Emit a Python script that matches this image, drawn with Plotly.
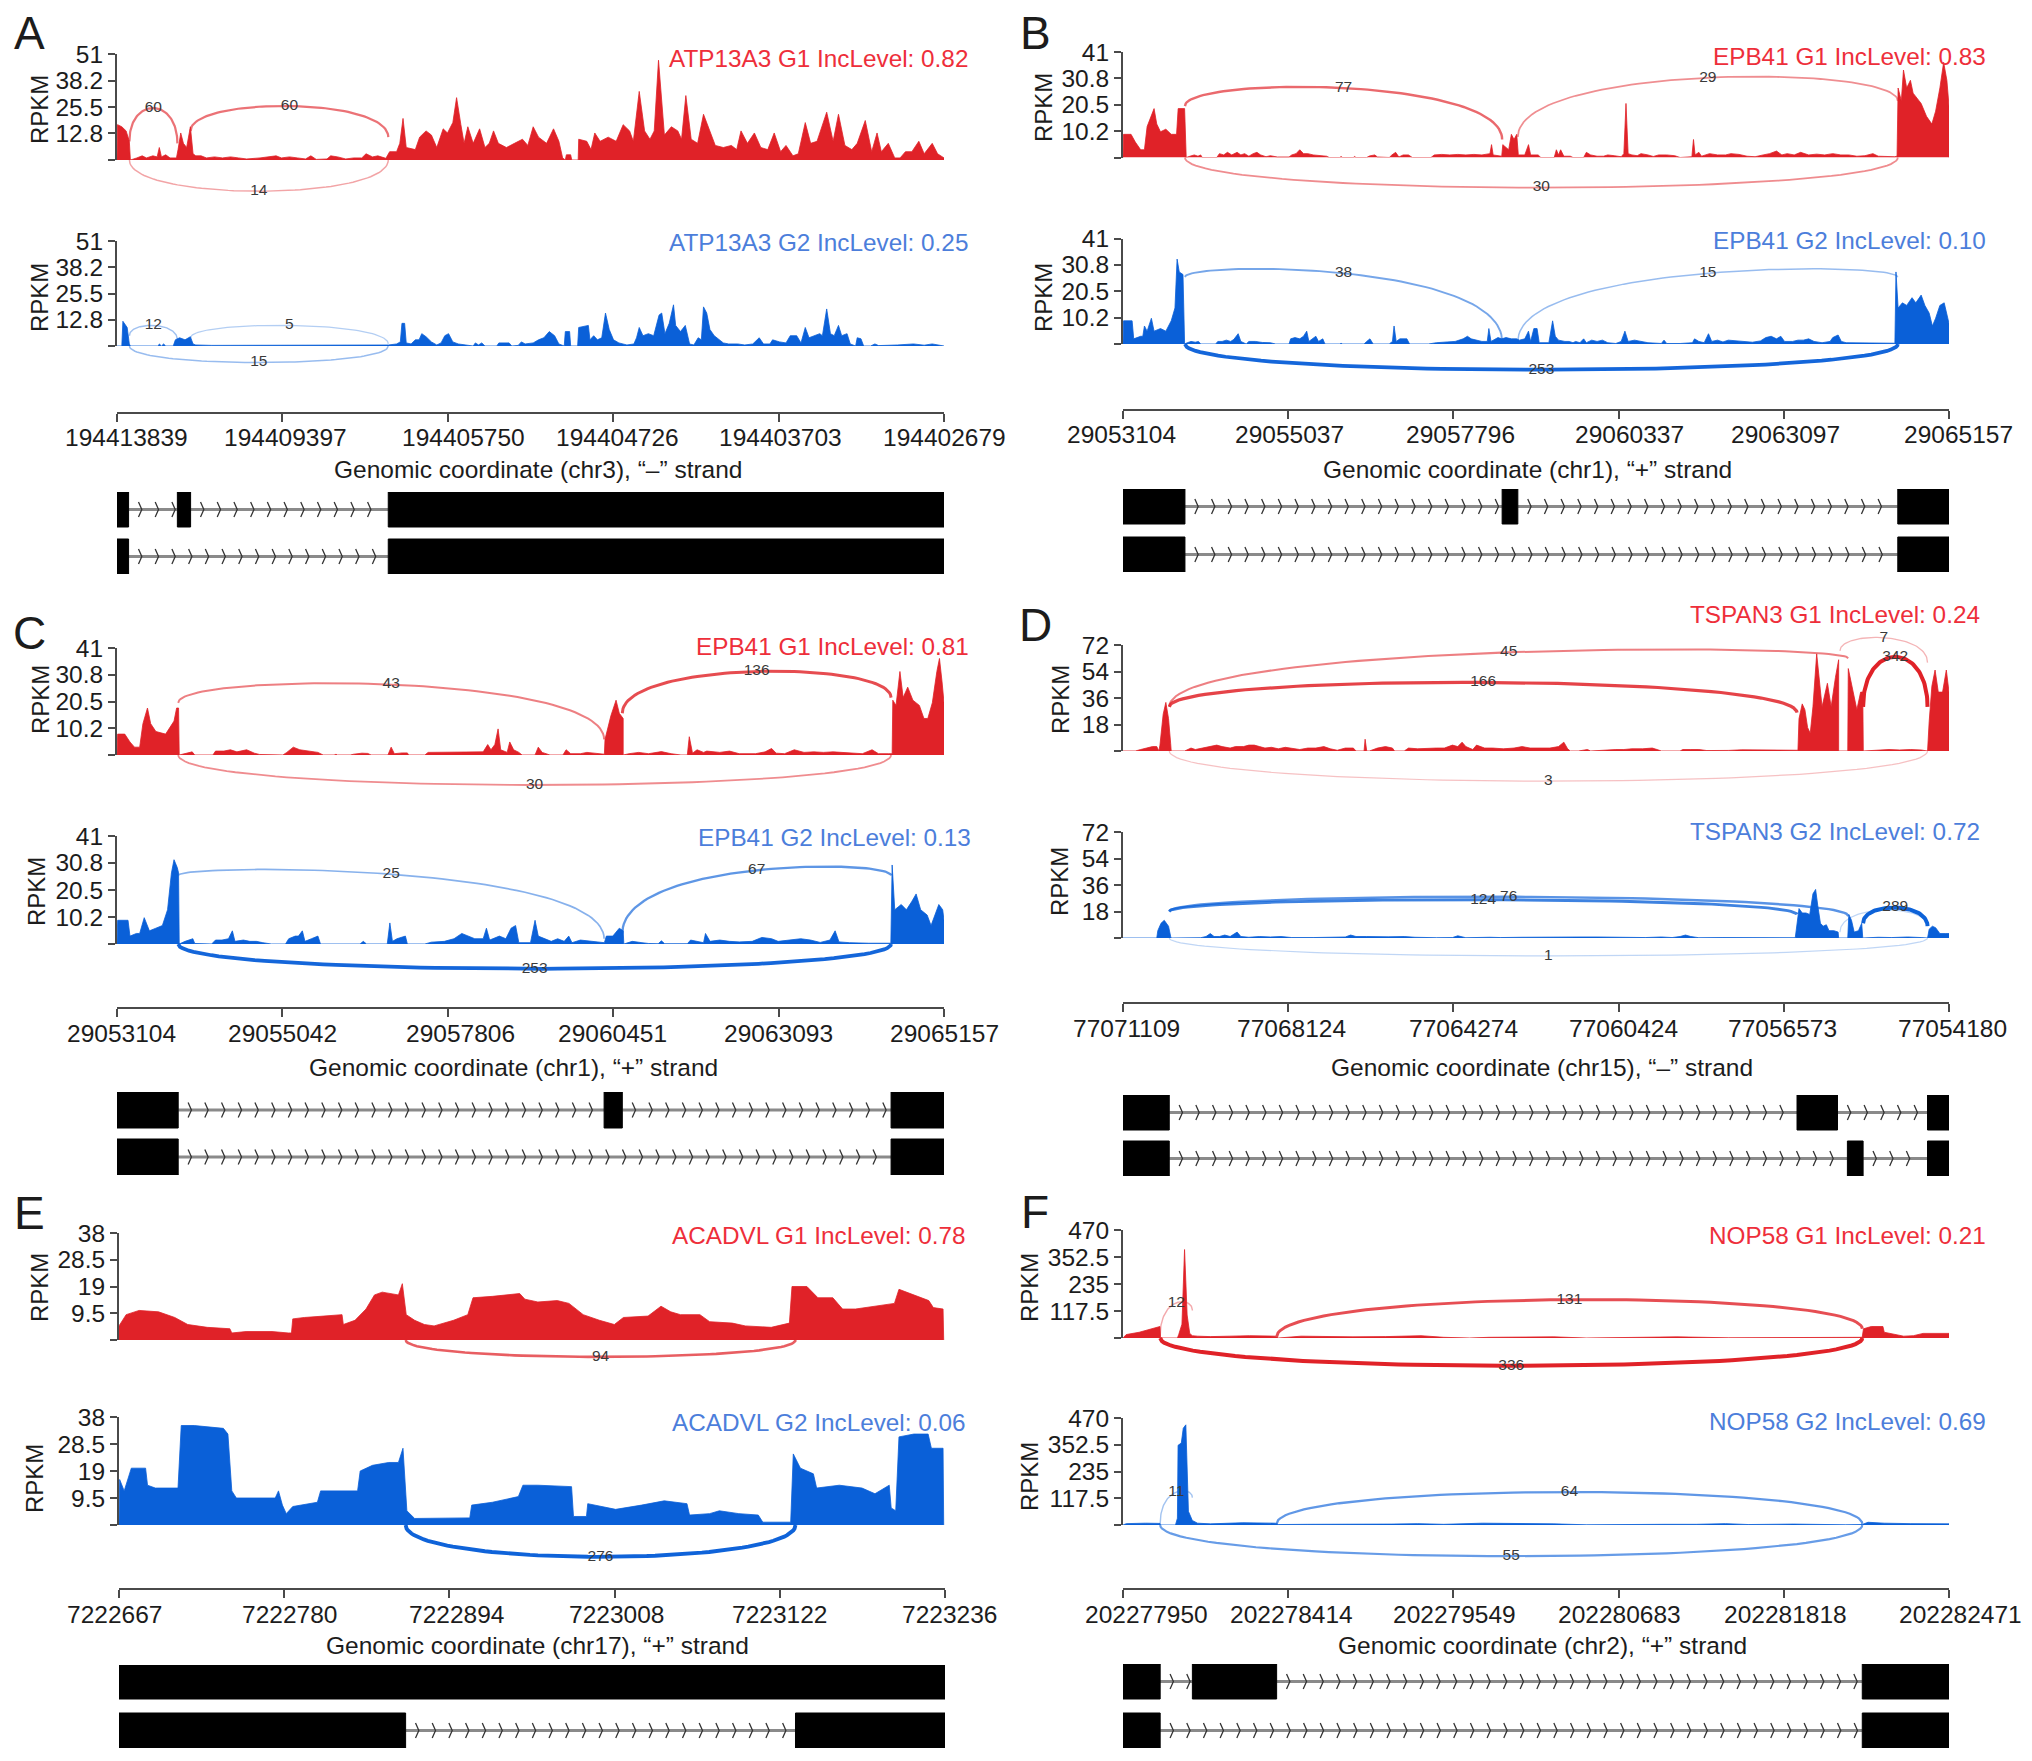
import numpy as np
import plotly.graph_objects as go

W, H = 2032, 1761
RED, BLUE = "#E02228", "#0A60D8"
RED_T, BLUE_T = "#EE2E3A", "#4C7EDB"
INK = "#1c1c1c"
AXC = "#4a4a4a"
FONT = "Liberation Sans"
ARC_PAD = 50

# ---------- coverage readings: (position along the axis in reading units, RPKM)
A1 = [(13,0),(14,17),(22,16),(30,14),(36,9),(38,0),(50,1),(60,2),(68,1),(80,2),(88,1.5),(92,6),(96,1.5),(104,2.5),(112,1),(124,1),(127,5),(132,13),(137,8),(143,6),(150,16),(155,3),(160,2),(170,2),(180,1),(195,1.5),(210,1),(225,1.5),(240,1),(255,.5),(280,1),(300,1.5),(310,2),(320,1),(335,1.5),(350,1),(365,.5),(375,2),(385,.3),(405,.5),(412,2),(425,1.5),(440,.5),(455,1),(470,1),(478,3),(490,1.5),(500,2),(515,.8),(522,4),(535,4),(541,8),(547,20),(553,6),(570,5),(578,11),(590,14),(600,12),(610,6),(622,15),(630,13),(640,18),(647,30),(655,17),(661,8),(668,16),(678,8),(690,15),(700,6),(708,8),(716,14),(725,8),(740,6),(755,8),(770,10),(780,7),(790,16),(800,11),(815,8),(828,15),(838,9),(845,1),(850,0),(852,2.5),(860,2.5),(862,0),(874,0),(875,10),(890,9),(898,5),(905,13),(915,9),(930,11),(945,9),(958,17),(970,14),(977,9),(988,33),(998,14),(1008,10),(1016,14),(1024,48),(1035,12),(1048,16),(1060,14),(1067,10),(1075,31),(1085,10),(1097,8),(1108,22),(1118,15),(1130,7),(1145,6),(1160,7),(1170,5),(1178,14),(1190,8),(1203,13),(1215,6),(1228,5),(1240,13),(1252,4),(1262,7),(1275,2),(1285,3),(1298,18),(1308,8),(1320,9),(1338,23),(1350,9),(1360,22),(1372,7),(1385,5),(1395,8),(1410,19),(1422,4),(1432,13),(1440,4),(1453,8),(1465,1),(1475,1),(1485,4),(1497,4),(1510,9),(1520,3),(1535,8),(1545,3),(1557,1),(1557,0)]
A2 = [(13,0),(22,0),(24,12),(32,9),(36,1),(38,0),(90,0),(92,1),(96,0),(100,1),(104,0),(118,0),(122,3),(130,4),(140,3),(150,4.5),(155,1),(160,.5),(190,.3),(230,.3),(270,.4),(310,.5),(360,.3),(420,.3),(480,.4),(515,.5),(520,.5),(535,1),(542,2),(545,11),(550,11),(553,1.5),(562,1),(570,3),(577,3),(582,6),(590,4.5),(600,2),(610,.5),(618,1.5),(625,5),(632,6),(640,2),(650,1),(665,.5),(678,0),(682,1.5),(688,.5),(694,1.5),(700,0),(722,0),(726,1.5),(745,1.5),(750,0),(762,.3),(768,2),(775,1),(790,1.5),(800,3),(810,4),(820,7),(830,5),(838,1),(848,0),(850,7),(858,7),(860,0),(873,0),(875,9),(885,9.5),(893,10),(896,3),(903,5),(910,3),(918,4),(925,16),(932,8),(940,3),(950,1.5),(965,.5),(978,1),(983,4),(988,9),(995,5),(1005,6),(1015,5),(1025,15),(1030,16),(1036,6),(1044,11),(1052,20),(1056,10),(1065,7),(1074,10),(1082,1),(1090,.5),(1098,4),(1104,3),(1108,19),(1114,16),(1120,8),(1128,5),(1138,3),(1145,1.5),(1155,1),(1172,1),(1185,.5),(1200,1),(1212,4),(1220,1),(1232,1),(1237,3),(1250,2),(1262,1.5),(1270,5),(1282,5),(1290,1.5),(1298,9),(1305,4),(1315,5),(1325,6),(1330,5),(1338,18),(1345,6),(1352,5),(1360,10),(1366,5),(1376,6),(1382,1),(1392,0),(1395,4),(1402,3.5),(1407,0),(1420,0),(1428,1),(1435,.2),(1455,.3),(1470,.5),(1500,1),(1520,.4),(1535,1),(1557,.3),(1557,0)]
B1 = [(15,0),(16,9),(30,9),(38,6),(48,3),(55,3),(60,12),(68,16),(73,19),(78,13),(85,10),(95,11),(105,9),(115,9),(118,19),(130,19),(133,0),(140,.5),(148,1),(155,.5),(160,1),(163,0),(190,0),(195,1.5),(203,1),(210,2),(218,1),(228,2),(235,1),(242,1.5),(250,.5),(258,1.5),(265,2),(272,1),(282,.3),(290,.7),(303,.2),(325,.2),(330,1),(338,1.5),(345,3),(352,1.5),(360,1.5),(370,1),(380,.7),(395,.5),(400,0),(420,0),(422,.4),(425,0),(445,0),(447,.4),(450,0),(470,0),(475,.6),(485,1),(490,.2),(512,0),(517,1),(524,2),(530,.2),(538,1),(548,1),(555,0),(590,0),(596,1),(610,1.2),(625,1),(640,1.2),(655,1),(670,1.2),(685,1),(700,1.5),(703,5),(706,1),(715,.6),(722,.5),(724,5),(735,3),(740,9),(745,7),(750,9),(753,1),(765,1),(772,5),(776,1),(790,1),(795,0),(820,0),(824,3),(828,1),(832,3),(838,.5),(850,.5),(855,0),(875,0),(880,2),(888,1),(900,.5),(912,.5),(920,1),(932,.7),(945,.3),(950,1.5),(954,21),(958,1.5),(965,1),(975,.7),(982,1.5),(995,1),(1005,.4),(1015,1),(1030,1),(1045,.7),(1055,0),(1077,.3),(1080,7),(1083,1),(1090,2),(1095,.5),(1110,1.5),(1125,1),(1140,1),(1150,1.5),(1165,1.2),(1180,.5),(1195,.3),(1210,1),(1222,1.5),(1235,2.5),(1245,1),(1255,1.5),(1268,1),(1280,2),(1295,1),(1310,1.3),(1325,1),(1340,1.5),(1355,1),(1370,1),(1385,.5),(1400,.7),(1415,1.5),(1425,.5),(1440,.3),(1455,.3),(1460,.5),(1462,27),(1468,22),(1472,34),(1478,27),(1485,30),(1490,25),(1498,23),(1505,21),(1515,16),(1525,13),(1532,18),(1540,27),(1547,37),(1553,30),(1557,20),(1557,0)]
B2 = [(15,0),(16,9),(32,9),(35,2),(48,3),(52,3),(55,7),(60,5),(68,10),(73,5),(85,6),(95,5),(105,9),(112,14),(116,33),(120,28),(127,27),(130,0),(135,.5),(142,1),(150,.7),(156,1),(160,0),(188,0),(192,1),(200,1),(208,1.5),(216,1),(222,1.8),(230,4),(235,1),(245,0),(250,1),(262,1),(275,.6),(290,.5),(300,0),(325,0),(328,2),(336,2.5),(345,2),(352,3),(358,5),(362,1),(375,3),(380,1),(388,2),(392,0),(420,0),(422,.3),(425,0),(465,0),(470,1),(476,2),(482,0),(512,0),(518,1),(521,7),(525,1),(532,2),(545,2),(550,0),(585,0),(600,.5),(620,.8),(635,1),(650,2),(658,3),(665,2),(675,1.5),(685,1),(695,1),(698,6),(702,1),(715,2.5),(722,2),(730,2.5),(740,2),(750,2),(755,1.5),(765,2),(772,5),(776,1),(782,6),(788,6),(792,.5),(810,.5),(817,9),(822,3),(828,1.5),(840,1),(848,1),(855,.5),(860,1),(868,.5),(875,2),(880,.5),(890,1.5),(900,1),(910,1.5),(920,.5),(935,.2),(945,1),(952,5),(958,1),(970,1.5),(985,.8),(995,.5),(1020,.2),(1025,1.5),(1030,.2),(1050,0),(1055,.2),(1078,.5),(1082,2),(1090,1),(1100,.5),(1108,4),(1114,1),(1125,1.5),(1135,.8),(1145,1.5),(1160,1.2),(1175,.8),(1190,.7),(1205,1.2),(1215,2.5),(1225,3),(1235,2),(1243,3),(1250,1),(1265,1),(1275,1.5),(1285,1.5),(1295,2),(1305,1),(1320,.5),(1335,1),(1340,2.5),(1350,3.5),(1356,1),(1365,.5),(1385,.4),(1410,.3),(1445,.3),(1456,.3),(1458,28),(1462,14),(1470,16),(1478,15),(1488,18),(1495,16),(1505,19),(1512,15),(1520,12),(1526,7),(1532,10),(1540,15),(1548,16),(1553,12),(1557,8),(1557,0)]
C1 = [(180,0),(181,8),(192,8),(200,5),(207,3),(215,3),(220,12),(227,18),(232,12),(240,9),(255,8),(268,13),(272,18),(275,18),(276,0),(285,.5),(296,1.2),(300,0),(328,0),(332,1.5),(345,1.5),(355,2),(365,1.2),(380,2),(392,.7),(400,.2),(420,0),(436,0),(442,1),(452,3),(462,2),(475,1.5),(490,1),(498,0),(515,0),(518,.3),(520,0),(540,0),(545,.3),(558,.7),(567,.6),(572,0),(598,0),(603,3),(608,.5),(620,.8),(628,.8),(630,0),(655,0),(660,1),(680,1),(695,1),(710,1.2),(730,1),(745,1.2),(752,4),(757,2),(763,4),(768,10),(772,2),(782,1),(786,5),(792,2),(800,1),(805,0),(825,0),(830,3),(836,1),(842,.5),(848,0),(868,0),(873,2),(880,.5),(895,.5),(905,1),(920,.5),(932,.3),(933,6),(942,15),(950,21),(955,16),(961,14),(961,0),(970,.5),(985,1),(1000,.5),(1020,1.3),(1035,.5),(1050,0),(1060,0),(1063,7),(1068,.7),(1075,2),(1085,1),(1090,1.5),(1110,1),(1125,1.5),(1140,.5),(1165,.5),(1180,1.2),(1190,2.5),(1197,.7),(1210,.5),(1225,2),(1240,1),(1255,1.2),(1270,1),(1285,1.2),(1300,1),(1315,.6),(1330,.5),(1345,2),(1355,.5),(1370,.5),(1376,.5),(1377,21),(1382,19),(1388,32),(1393,22),(1400,26),(1408,21),(1418,19),(1425,14),(1431,14),(1438,20),(1445,32),(1449,37),(1453,28),(1456,20),(1456,0)]
C2 = [(180,0),(181,9),(197,9),(200,3),(210,4),(215,4),(222,10),(230,5),(240,6),(250,7),(258,13),(264,27),(268,32),(273,29),(275,27),(276,0),(285,1),(297,2),(300,.2),(326,0),(332,1.5),(342,1.5),(352,2),(358,5),(362,1),(375,1.5),(385,1),(395,1),(405,.5),(418,0),(440,0),(445,2),(455,3),(460,3),(466,5),(470,1),(480,2),(490,3),(494,0),(520,.1),(555,0),(560,1),(565,0),(597,0),(601,8),(605,1),(612,2),(625,3),(628,0),(655,0),(665,.7),(685,1),(700,2),(712,4),(722,3),(732,2),(745,2),(750,6),(755,1.5),(770,3),(780,2),(788,6),(795,7),(800,.5),(818,.5),(825,9),(830,3),(840,2),(850,1),(860,2),(870,1),(877,3),(882,.5),(895,1.5),(910,1),(925,.5),(932,.5),(935,3),(945,3),(955,6),(961,5),(962,0),(975,1),(990,.5),(1000,.2),(1015,.1),(1020,1.2),(1025,.1),(1060,.1),(1065,1.5),(1075,1),(1085,.5),(1088,4),(1095,1),(1110,1.5),(1125,1),(1140,.8),(1160,1),(1175,2.5),(1190,2),(1200,1),(1215,1.5),(1235,2),(1250,1.5),(1265,.6),(1280,1.5),(1288,5),(1294,.8),(1310,.5),(1340,.3),(1374,.3),(1376,30),(1380,13),(1390,15),(1398,13),(1406,16),(1413,19),(1420,13),(1430,11),(1436,7),(1442,11),(1448,15),(1454,13),(1456,9),(1456,0)]
D1 = [(15,0),(38,0),(48,1),(60,2),(70,3),(78,3),(82,0),(84,4),(90,25),(95,33),(100,22),(104,5),(105,0),(130,0),(135,1),(142,2),(150,1),(165,2),(180,3),(190,4),(200,3),(215,2),(225,3),(240,3),(250,4),(260,4),(270,3),(280,2),(292,2.5),(305,1.5),(318,2.5),(335,1.5),(345,1),(360,2),(375,2),(390,3),(402,1.5),(415,.5),(430,2),(445,2),(450,0),(465,0),(467,8),(470,0),(475,0),(490,2),(505,3),(518,2),(522,0),(540,0),(548,2),(565,1.5),(585,2),(600,2),(615,2),(630,4),(640,3),(648,6),(655,3),(668,1),(675,4),(690,2),(705,2),(725,1.5),(745,2),(760,3),(775,2),(795,2),(812,2),(828,3),(838,6),(845,1.5),(850,0),(865,0),(875,.7),(882,1),(888,0),(905,.3),(920,1),(935,1),(950,1),(965,1.5),(985,1.5),(1003,2),(1012,1),(1020,0),(1055,0),(1060,1),(1075,1),(1090,1),(1105,.3),(1125,.2),(1145,.4),(1170,.8),(1180,.8),(1195,.8),(1215,1),(1240,1),(1262,1),(1275,.5),(1277,22),(1283,32),(1288,28),(1293,16),(1298,12),(1303,30),(1310,66),(1315,50),(1320,30),(1330,46),(1337,30),(1345,50),(1351,62),(1351,0),(1368,0),(1369,56),(1378,40),(1385,28),(1392,40),(1396,40),(1397,0),(1410,.3),(1425,1),(1445,1),(1465,.7),(1485,1),(1505,.7),(1517,0),(1520,20),(1525,44),(1531,55),(1537,40),(1545,40),(1552,55),(1557,40),(1557,0)]
D2 = [(15,0),(40,0),(50,.5),(62,.3),(78,0),(80,5),(86,10),(92,12),(100,8),(104,1),(105,0),(160,.2),(170,1),(178,3),(185,1),(195,1),(205,2),(215,1),(228,4),(235,1),(250,.5),(270,1),(290,.7),(310,1),(330,.3),(370,.3),(430,.7),(440,2),(450,1),(470,1),(490,.8),(510,.8),(540,1),(560,.5),(600,.2),(630,.3),(640,1.5),(655,.2),(700,.5),(720,.3),(760,.5),(800,.4),(830,.3),(870,.7),(900,.7),(930,.5),(960,.5),(990,.3),(1020,.7),(1040,.3),(1055,1),(1065,2),(1075,1),(1090,.2),(1135,.3),(1175,.3),(1210,.4),(1255,.5),(1270,.2),(1277,20),(1283,17),(1290,17),(1297,16),(1303,30),(1308,33),(1312,22),(1317,10),(1322,8),(1328,9),(1333,5),(1342,5),(1350,4),(1351,0),(1368,0),(1370,16),(1375,12),(1380,4),(1388,5),(1394,10),(1396,0),(1425,.5),(1450,.3),(1480,.7),(1505,.3),(1517,0),(1520,6),(1526,8),(1532,7),(1540,3),(1550,3),(1557,3),(1557,0)]
E1 = [(184,0),(184,5),(195,9),(215,10.5),(245,10),(270,8),(290,5.5),(320,4.5),(355,4),(358,2.5),(380,3),(420,3),(445,2.5),(450,2.5),(452,7.5),(470,8),(500,8.5),(528,9),(530,5.5),(548,7),(565,11),(578,16),(590,17),(615,16),(621,20),(627,9),(640,7),(655,5.5),(670,5),(700,7),(722,9),(730,15),(760,15.5),(785,16),(802,16.5),(810,14.5),(830,13.5),(860,14),(878,13),(900,9),(925,7),(948,5.5),(962,8),(1000,8.5),(1020,12),(1035,10),(1050,9),(1080,9),(1095,6.5),(1130,6),(1150,5),(1190,4.5),(1218,6),(1222,19),(1245,19),(1262,15),(1285,15),(1300,11),(1320,11),(1350,12),(1380,13),(1387,18),(1410,16),(1433,14),(1440,11.5),(1455,11),(1456,0)]
E2 = [(184,0),(185,16),(192,12),(203,20),(225,20),(228,14),(240,13),(275,13),(280,35),(300,35),(345,34),(352,32),(358,12),(365,9.5),(425,9.5),(430,12),(436,7),(442,4),(452,6.5),(490,8),(495,12),(530,12),(552,12),(556,19),(575,21),(600,22),(615,22),(622,27),(628,5),(640,2.3),(680,2.5),(725,2.5),(728,7),(760,8),(800,10),(807,14),(830,14),(882,13.5),(885,3),(905,3),(907,7.5),(950,5.5),(990,7),(1025,8.5),(1060,7.5),(1064,3.5),(1095,4),(1110,5),(1140,4),(1170,3.5),(1177,1),(1220,1),(1224,25),(1235,20),(1255,18),(1260,13),(1295,14),(1330,13),(1350,11),(1372,14),(1375,6),(1382,5),(1387,31),(1410,32),(1432,32),(1437,27),(1455,27),(1456,0)]
F1 = [(165,0),(170,15),(190,25),(210,40),(222,50),(223,0),(249,0),(251,15),(256,60),(260,385),(264,100),(268,20),(272,10),(280,8),(300,6),(330,8),(360,10),(400,8),(405,0),(440,8),(470,6),(520,5),(570,6),(625,10),(660,3),(700,0),(730,3),(780,4),(830,5),(880,0),(930,2),(1020,5),(1100,1),(1200,2),(1280,1),(1306,3),(1308,40),(1320,50),(1338,50),(1340,25),(1370,8),(1385,10),(1400,20),(1440,20),(1440,0)]
F2 = [(165,0),(170,6),(200,8),(222,7),(223,0),(246,0),(249,30),(250,350),(255,360),(258,425),(262,440),(266,60),(272,20),(280,8),(300,5),(350,10),(400,8),(405,2),(450,3),(520,2),(580,4),(620,6),(660,3),(720,8),(770,6),(790,8),(830,5),(880,1),(930,3),(1000,3),(1050,3),(1095,6),(1130,2),(1200,4),(1280,1),(1306,2),(1315,12),(1340,8),(1380,6),(1440,5),(1440,0)]

# ---------- splice junctions: start %, end %, RPKM at start, at end, at midpoint, read count, label
A1_J = [(1.5,7.3,9,8,25,60,"60"),(8.9,32.8,14,11,26,60,"60"),(1.5,32.8,0,0,-15,14,"14")]
A2_J = [(1.5,7.3,5,3,10,12,"12"),(8.9,32.8,4,1,10,5,"5"),(1.5,32.8,0,0,-8,15,"15")]
B1_J = [(7.5,45.9,20,7,27,77,"77"),(47.8,93.8,8,22,31,29,"29"),(7.5,93.8,0,0,-11.7,30,"30")]
B2_J = [(7.5,45.9,26,1,27.5,38,"38"),(47.8,93.8,1,26,27.5,15,"15"),(7.5,93.8,0,0,-10,253,"253")]
C1_J = [(7.4,58.9,20,6,27,43,"43"),(61.1,93.6,16,22,32,136,"136"),(7.4,93.6,0,0,-11.5,30,"30")]
C2_J = [(7.4,58.9,26,2,26.5,25,"25"),(61.1,93.6,4,26,28,67,"67"),(7.4,93.6,0,0,-9.4,253,"253")]
D1_J = [(5.6,81.6,30,26,46.6,166,"166"),(5.6,87.8,30,63,67,45,"45"),(86.8,97.4,68,60,77,7,"7"),(89.6,97.4,30,30,64,342,"342"),(5.6,97.4,0,0,-20.5,3,"3")]
D2_J = [(5.6,81.6,18,16,26,124,"124"),(5.6,87.8,18,15,28,76,"76"),(86.8,97.4,4,8,19,2,""),(89.6,97.4,10,8,20.7,289,"289"),(5.6,97.4,0,0,-12.2,1,"1")]
E1_J = [(34.7,81.9,0,0,-6,94,"94")]
E2_J = [(34.7,81.9,0,0,-11.2,276,"276")]
F1_J = [(4.5,8.4,10,120,153,12,"12"),(18.6,89.5,5,40,167,131,"131"),(4.5,89.5,0,0,-121,336,"336")]
F2_J = [(4.5,8.4,5,120,145,11,"11"),(18.6,89.5,5,5,145,64,"64"),(4.5,89.5,0,0,-137,55,"55")]

# ---------- gene models: exon start/end % for each of the two isoform rows
A_EX = [[(0,1.4),(7.3,8.9),(32.8,100)],[(0,1.4),(32.8,100)]]
B_EX = [[(0,7.5),(45.9,47.8),(93.8,100)],[(0,7.5),(93.8,100)]]
C_EX = [[(0,7.4),(58.9,61.1),(93.6,100)],[(0,7.4),(93.6,100)]]
D_EX = [[(0,5.6),(81.6,86.5),(97.4,100)],[(0,5.6),(87.7,89.6),(97.4,100)]]
E_EX = [[(0,100)],[(0,34.7),(81.9,100)]]
F_EX = [[(0,4.5),(8.4,18.6),(89.5,100)],[(0,4.5),(89.5,100)]]

# ---------- tick labels
A_X = ["194413839","194409397","194405750","194404726","194403703","194402679"]
B_X = ["29053104","29055037","29057796","29060337","29063097","29065157"]
C_X = ["29053104","29055042","29057806","29060451","29063093","29065157"]
D_X = ["77071109","77068124","77064274","77060424","77056573","77054180"]
E_X = ["7222667","7222780","7222894","7223008","7223122","7223236"]
F_X = ["202277950","202278414","202279549","202280683","202281818","202282471"]
A_Y = [0,12.8,25.5,38.2,51]
B_Y = [0,10.2,20.5,30.8,41]
D_Y = [0,18,36,54,72]
E_Y = [0,9.5,19,28.5,38]
F_Y = [0,117.5,235,352.5,470]

# where each tick label is centred, in % along the axis (the figure's labels sit off their ticks)
A_XL = [1.2,20.4,41.9,60.5,80.2,100]
B_XL = [-0.2,20.2,40.8,61.3,80.2,101.2]
C_XL = [0.5,20,41.5,59.9,80,100.1]
D_XL = [0.4,20.4,41.2,60.6,79.9,100.4]
E_XL = [-0.6,20.7,40.8,60.2,80,100.6]
F_XL = [2.9,20.4,40.1,60.1,80.2,101.4]
TICK_POS = [0,20,40,60,80,100]

PANELS = [
 dict(letter="A", lpos=(29,33), xr=(117,944), rd=(13,1557), y1=(54,160), y2=(241,346), ax=413, title="Genomic coordinate (chr3), “–” strand", tpos=(538,469),
      g1=(492,527), g2=(539,574), t1=A1, t2=A2, j1=A1_J, j2=A2_J, ex=A_EX, xt=A_X, xl=A_XL, yt=A_Y,
      n1="ATP13A3 G1 IncLevel: 0.82", n2="ATP13A3 G2 IncLevel: 0.25", np1=(970,58), np2=(970,242), r1=(39,110), r2=(39,298)),
 dict(letter="B", lpos=(1035,33), xr=(1123,1949), rd=(15,1557), y1=(52,157.5), y2=(238.5,344), ax=410, title="Genomic coordinate (chr1), “+” strand", tpos=(1527,469),
      g1=(489,524), g2=(537,572), t1=B1, t2=B2, j1=B1_J, j2=B2_J, ex=B_EX, xt=B_X, xl=B_XL, yt=B_Y,
      n1="EPB41 G1 IncLevel: 0.83", n2="EPB41 G2 IncLevel: 0.10", np1=(1988,56), np2=(1988,240), r1=(1043,108), r2=(1043,298)),
 dict(letter="C", lpos=(29,633), xr=(117,944), rd=(180,1456), y1=(648,755), y2=(836,944), ax=1008, title="Genomic coordinate (chr1), “+” strand", tpos=(513,1067),
      g1=(1092,1128), g2=(1139,1175), t1=C1, t2=C2, j1=C1_J, j2=C2_J, ex=C_EX, xt=C_X, xl=C_XL, yt=B_Y,
      n1="EPB41 G1 IncLevel: 0.81", n2="EPB41 G2 IncLevel: 0.13", np1=(971,647), np2=(973,837), r1=(40,700), r2=(37,892)),
 dict(letter="D", lpos=(1035,625), xr=(1123,1949), rd=(15,1557), y1=(645,751), y2=(832,938), ax=1003, title="Genomic coordinate (chr15), “–” strand", tpos=(1542,1067),
      g1=(1095,1130), g2=(1141,1176), t1=D1, t2=D2, j1=D1_J, j2=D2_J, ex=D_EX, xt=D_X, xl=D_XL, yt=D_Y,
      n1="TSPAN3 G1 IncLevel: 0.24", n2="TSPAN3 G2 IncLevel: 0.72", np1=(1982,615), np2=(1982,831), r1=(1060,700), r2=(1060,882)),
 dict(letter="E", lpos=(29,1213), xr=(119,945), rd=(184,1458), y1=(1233,1340), y2=(1417,1525), ax=1589, title="Genomic coordinate (chr17), “+” strand", tpos=(537,1645),
      g1=(1665,1699), g2=(1713,1748), t1=E1, t2=E2, j1=E1_J, j2=E2_J, ex=E_EX, xt=E_X, xl=E_XL, yt=E_Y,
      n1="ACADVL G1 IncLevel: 0.78", n2="ACADVL G2 IncLevel: 0.06", np1=(968,1235), np2=(968,1422), r1=(39,1288), r2=(34,1479)),
 dict(letter="F", lpos=(1035,1212), xr=(1123,1949), rd=(165,1440), y1=(1230,1338), y2=(1418,1525), ax=1589, title="Genomic coordinate (chr2), “+” strand", tpos=(1542,1645),
      g1=(1664,1699), g2=(1713,1748), t1=F1, t2=F2, j1=F1_J, j2=F2_J, ex=F_EX, xt=F_X, xl=F_XL, yt=F_Y,
      n1="NOP58 G1 IncLevel: 0.21", n2="NOP58 G2 IncLevel: 0.69", np1=(1988,1235), np2=(1988,1421), r1=(1029,1288), r2=(1029,1477)),
]

def px(x): return x / W
def py(y): return 1 - y / H
def rgba(hexc, a):
    r, g, b = int(hexc[1:3],16), int(hexc[3:5],16), int(hexc[5:7],16)
    return f"rgba({r},{g},{b},{a:.2f})"

fig = go.Figure()
layout = dict(width=W, height=H, margin=dict(l=0,r=0,t=0,b=0,autoexpand=False), paper_bgcolor="white", plot_bgcolor="rgba(0,0,0,0)",
              showlegend=False, hovermode=False, font=dict(family=FONT, color=INK))
annotations = []
TS = np.linspace(0, 1, 70)

def add_note(text, x, y, size, color=INK, anchor="center", angle=0):
    annotations.append(dict(text=text, x=px(x), y=py(y), xref="paper", yref="paper", showarrow=False,
                            xanchor=anchor, yanchor="middle", textangle=angle,
                            font=dict(family=FONT, size=size, color=color)))

def add_track(xn, yn, arcn, pts, rd, color, juncs):
    dx = [(p[0]-rd[0])/(rd[1]-rd[0])*100 for p in pts]
    dy = [p[1] for p in pts]
    fig.add_trace(go.Scatter(x=dx, y=dy, xaxis=xn, yaxis=yn, mode="lines", fill="tozeroy", fillcolor=color,
                             line=dict(color=color, width=0.8), hoverinfo="skip"))
    lx, ly, lt = [], [], []
    for x0, x1, y0, y1, ym, n, lab in juncs:
        c = (8*ym - y0 - y1)/6
        t = TS
        xs = x0 + (x1-x0)*(3*t**2 - 2*t**3)
        ys = (1-t)**3*y0 + 3*(1-t)**2*t*c + 3*(1-t)*t**2*c + t**3*y1
        ratio = np.log(max(n,2))/np.log(300)
        alpha = min(1.0, 0.25 + 0.75*ratio**2)
        width = 1.2 + 2.8*min(1.0, ratio)**3
        fig.add_trace(go.Scatter(x=xs, y=ys, xaxis=xn, yaxis=arcn, mode="lines",
                                 line=dict(color=rgba(color, alpha), width=width), hoverinfo="skip"))
        if lab:
            lx.append((x0+x1)/2); ly.append(ym); lt.append(lab)
    if lt:
        fig.add_trace(go.Scatter(x=lx, y=ly, text=lt, xaxis=xn, yaxis=arcn, mode="text",
                                 textposition="middle center", textfont=dict(family=FONT, size=15.5, color="#3a3a3a"),
                                 hoverinfo="skip"))

for i, p in enumerate(PANELS):
    k = i*5
    xid = "" if i == 0 else str(i+1)
    xname = "x"+xid
    ya, yb, yg, yc, yd = [str(k+1) if k else "", str(k+2), str(k+3), str(k+4), str(k+5)]
    layout["xaxis"+xid] = dict(domain=[px(p["xr"][0]), px(p["xr"][1])], range=[0,100], anchor="free", position=py(p["ax"]),
                               side="bottom", tickmode="array", tickvals=TICK_POS, showticklabels=False,
                               showgrid=False, zeroline=False, showline=True, linecolor=AXC, linewidth=2,
                               ticks="outside", ticklen=8, tickwidth=2, tickcolor=AXC)
    span_px = p["xr"][1]-p["xr"][0]
    for lab, at in zip(p["xt"], p["xl"]):
        add_note(lab, p["xr"][0] + at/100*span_px, p["ax"]+25, 24.5)
    top = p["yt"][-1]
    for yid, arc, dom in ((ya,yc,p["y1"]),(yb,yd,p["y2"])):
        layout["yaxis"+yid] = dict(domain=[py(dom[1]), py(dom[0])], range=[0,top], anchor=xname,
                                   tickmode="array", tickvals=p["yt"], ticktext=[""]+[f"{v:g}" for v in p["yt"][1:]],
                                   showgrid=False, zeroline=False, showline=True, linecolor=AXC, linewidth=2,
                                   ticks="outside", ticklen=7, tickwidth=2, tickcolor=AXC,
                                   tickfont=dict(family=FONT, size=24.5, color=INK))
        unit = top/(dom[1]-dom[0])
        layout["yaxis"+arc] = dict(domain=[py(dom[1]+ARC_PAD), py(dom[0]-ARC_PAD)],
                                   range=[-ARC_PAD*unit, top+ARC_PAD*unit], anchor=xname, visible=False)
    span = p["g2"][1]-p["g1"][0]
    layout["yaxis"+yg] = dict(domain=[py(p["g2"][1]), py(p["g1"][0])], range=[0,span], anchor=xname, visible=False)

    add_track(xname, "y"+ya, "y"+yc, p["t1"], p["rd"], RED, p["j1"])
    add_track(xname, "y"+yb, "y"+yd, p["t2"], p["rd"], BLUE, p["j2"])

    rows = [(p["g2"][1]-p["g1"][1], p["g2"][1]-p["g1"][0]), (0, p["g2"][1]-p["g2"][0])]
    for exons, (lo, hi) in zip(p["ex"], rows):
        mid = (lo+hi)/2
        cx, cy = [], []
        for a, b in zip(exons[:-1], exons[1:]):
            s, e = a[1], b[0]
            fig.add_trace(go.Scatter(x=[s,e], y=[mid,mid], xaxis=xname, yaxis="y"+yg, mode="lines",
                                     line=dict(color="#8a8a8a", width=3), hoverinfo="skip"))
            for c in np.arange(s+1.6, e-0.2, 2.02):
                cx += [c-0.4, c, c-0.4, None]
                cy += [mid+7.5, mid, mid-7.5, None]
        if cx:
            fig.add_trace(go.Scatter(x=cx, y=cy, xaxis=xname, yaxis="y"+yg, mode="lines",
                                     line=dict(color="#333333", width=1.3), hoverinfo="skip"))
        ex_x, ex_y = [], []
        for s, e in exons:
            ex_x += [s,e,e,s,s,None]
            ex_y += [lo,lo,hi,hi,lo,None]
        fig.add_trace(go.Scatter(x=ex_x, y=ex_y, xaxis=xname, yaxis="y"+yg, mode="lines", fill="toself",
                                 fillcolor="black", line=dict(color="black", width=1), hoverinfo="skip"))

    add_note(p["letter"], *p["lpos"], 46)
    add_note(p["n1"], *p["np1"], 24.3, RED_T, "right")
    add_note(p["n2"], *p["np2"], 24.3, BLUE_T, "right")
    add_note("RPKM", *p["r1"], 24, INK, "center", -90)
    add_note("RPKM", *p["r2"], 24, INK, "center", -90)
    add_note(p["title"], *p["tpos"], 24.5)

layout["annotations"] = annotations
fig.update_layout(**layout)
fig.write_html("out.html", config=dict(displayModeBar=False),
               post_script="document.body.style.margin='0';document.body.style.overflow='hidden';")
